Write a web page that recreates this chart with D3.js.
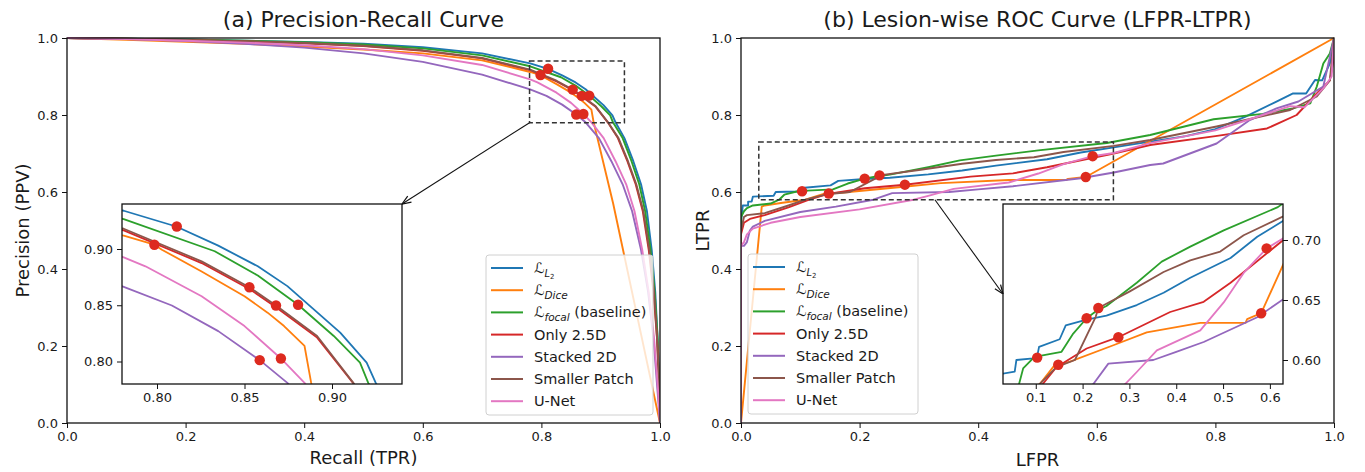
<!DOCTYPE html>
<html><head><meta charset="utf-8">
<script src="https://cdn.jsdelivr.net/npm/d3@7"></script>
<style>body{margin:0;background:#fff} svg text{font-family:"DejaVu Sans",sans-serif;fill:#1a1a1a}</style>
</head><body><svg id="c" width="1365" height="472"></svg>
<script>
// ---------- data ----------
const seriesNames = ["L2", "Dice", "focal (baseline)", "Only 2.5D", "Stacked 2D", "Smaller Patch", "U-Net"];
const seriesColors = ["#1f77b4", "#ff7f0e", "#2ca02c", "#d62728", "#9467bd", "#8c564b", "#e377c2"];
const mainTicks = [0.0, 0.2, 0.4, 0.6, 0.8, 1.0];
const prInsetTicks = [0.80, 0.85, 0.90];
const rocInsetXTicks = [0.1, 0.2, 0.3, 0.4, 0.5, 0.6];
const rocInsetYTicks = [0.60, 0.65, 0.70];
const prZoom = {x: [0.78, 0.94], y: [0.78, 0.94]};
const rocZoom = {x: [0.03, 0.628], y: [0.58, 0.73]};

// Precision-Recall curves  [recall, precision]
const prL2 = [[0,1.0],[0.1,0.998],[0.2,0.996],[0.3,0.993],[0.4,0.99],[0.5,0.985],[0.6,0.976],[0.7,0.96],[0.781,0.934],[0.811,0.92],[0.835,0.903],[0.8576,0.8846],[0.8745,0.867],[0.8896,0.8463],[0.9047,0.8257],[0.9198,0.799],[0.925,0.781],[0.94,0.74],[0.955,0.68],[0.968,0.62],[0.978,0.55],[0.986,0.45],[0.992,0.34],[0.996,0.22],[0.999,0.08],[1.0,0.0]];
const prDice = [[0,1.0],[0.1,0.995],[0.2,0.99],[0.3,0.985],[0.4,0.978],[0.5,0.97],[0.6,0.96],[0.7,0.942],[0.781,0.9118],[0.7985,0.9038],[0.8028,0.8994],[0.8255,0.88],[0.85,0.858],[0.8632,0.8434],[0.8726,0.8315],[0.8843,0.8138],[0.8881,0.781],[0.921,0.57],[1.0,0.0]];
const prFocal = [[0,1.0],[0.1,0.998],[0.2,0.996],[0.3,0.993],[0.4,0.989],[0.5,0.983],[0.6,0.973],[0.7,0.955],[0.781,0.9265],[0.833,0.898],[0.8576,0.8764],[0.8806,0.8504],[0.901,0.8227],[0.916,0.799],[0.9207,0.781],[0.937,0.74],[0.952,0.68],[0.965,0.62],[0.975,0.55],[0.984,0.45],[0.991,0.34],[0.996,0.22],[0.999,0.08],[1.0,0.0]];
const pr25D = [[0,1.0],[0.1,0.998],[0.2,0.995],[0.3,0.991],[0.4,0.986],[0.5,0.979],[0.6,0.967],[0.7,0.947],[0.781,0.9165],[0.8255,0.8875],[0.8528,0.8645],[0.868,0.8483],[0.8915,0.8212],[0.912,0.781],[0.929,0.74],[0.945,0.68],[0.959,0.62],[0.971,0.55],[0.981,0.45],[0.989,0.34],[0.995,0.22],[0.999,0.08],[1.0,0.0]];
const prStacked = [[0,1.0],[0.1,0.997],[0.2,0.992],[0.3,0.985],[0.4,0.975],[0.5,0.96],[0.6,0.938],[0.7,0.905],[0.781,0.8664],[0.8085,0.8498],[0.835,0.827],[0.8587,0.8012],[0.8745,0.781],[0.897,0.74],[0.918,0.68],[0.937,0.62],[0.953,0.55],[0.968,0.45],[0.98,0.34],[0.989,0.22],[0.996,0.08],[1.0,0.0]];
const prSmaller = [[0,1.0],[0.1,0.998],[0.2,0.995],[0.3,0.992],[0.4,0.987],[0.5,0.98],[0.6,0.968],[0.7,0.948],[0.781,0.918],[0.8255,0.889],[0.8528,0.866],[0.868,0.8498],[0.8915,0.8227],[0.9122,0.781],[0.93,0.74],[0.946,0.68],[0.96,0.62],[0.972,0.55],[0.982,0.45],[0.99,0.34],[0.995,0.22],[0.999,0.08],[1.0,0.0]];
const prUNet = [[0,1.0],[0.1,0.997],[0.2,0.993],[0.3,0.988],[0.4,0.981],[0.5,0.971],[0.6,0.955],[0.7,0.93],[0.781,0.8926],[0.7934,0.8846],[0.8255,0.858],[0.85,0.8315],[0.8708,0.8027],[0.8843,0.781],[0.905,0.74],[0.925,0.68],[0.943,0.62],[0.957,0.55],[0.97,0.45],[0.981,0.34],[0.99,0.22],[0.997,0.08],[1.0,0.0]];
const prPoints = [[0.8113,0.920],[0.7985,0.9038],[0.8528,0.866],[0.868,0.8498],[0.8806,0.8504],[0.8587,0.8012],[0.8708,0.8027]];

// Lesion-wise ROC curves [LFPR, LTPR]
const rocL2 = [[0,0],[0,0.52],[0.003,0.565],[0.012,0.565],[0.012,0.575],[0.018,0.575],[0.02,0.588],[0.055,0.5904],[0.0586,0.6],[0.0943,0.6014],[0.103,0.603],[0.107,0.611],[0.151,0.6173],[0.164,0.6288],[0.2086,0.6337],[0.251,0.637],[0.3157,0.6458],[0.373,0.656],[0.43,0.6685],[0.516,0.685],[0.573,0.7027],[0.6286,0.716],[0.69,0.731],[0.75,0.745],[0.8,0.763],[0.85,0.795],[0.903,0.835],[0.931,0.856],[0.953,0.856],[0.968,0.891],[0.98,0.89],[0.993,0.934],[1.0,1.0]];
const rocDice = [[0,0],[0.035,0.562],[0.04,0.565],[0.07,0.572],[0.1086,0.58],[0.1407,0.5959],[0.148,0.596],[0.173,0.5986],[0.2657,0.6123],[0.337,0.623],[0.4514,0.631],[0.548,0.631],[0.5514,0.634],[0.5814,0.639],[1.0,1.0]];
const rocFocal = [[0,0],[0,0.535],[0.005,0.55],[0.01,0.558],[0.02,0.565],[0.05,0.57],[0.0643,0.58],[0.073,0.593],[0.094,0.6014],[0.103,0.603],[0.155,0.6068],[0.18,0.622],[0.2086,0.6348],[0.23,0.641],[0.251,0.645],[0.3157,0.6644],[0.369,0.682],[0.43,0.6945],[0.5014,0.708],[0.617,0.7274],[0.69,0.748],[0.797,0.789],[0.88,0.803],[0.931,0.817],[0.96,0.83],[0.971,0.874],[0.982,0.934],[0.993,0.96],[1.0,1.0]];
const roc25D = [[0,0],[0,0.49],[0.005,0.52],[0.015,0.53],[0.04,0.54],[0.08,0.56],[0.115,0.58],[0.144,0.594],[0.2086,0.6096],[0.2764,0.619],[0.387,0.64],[0.4586,0.6485],[0.516,0.6644],[0.6286,0.70],[0.69,0.722],[0.8,0.745],[0.887,0.765],[0.937,0.8],[0.971,0.856],[0.993,0.89],[1.0,0.95],[1.0,1.0]];
const rocStacked = [[0,0],[0,0.46],[0.005,0.46],[0.01,0.47],[0.015,0.5],[0.02,0.51],[0.04,0.525],[0.1,0.548],[0.16,0.562],[0.223,0.58],[0.255,0.597],[0.351,0.6],[0.4,0.6068],[0.4586,0.615],[0.573,0.6356],[0.6286,0.6507],[0.69,0.67],[0.712,0.674],[0.802,0.726],[0.858,0.787],[0.903,0.817],[0.94,0.835],[0.982,0.874],[1.0,1.0]];
const rocSmaller = [[0,0],[0,0.5],[0.005,0.535],[0.01,0.54],[0.04,0.545],[0.08,0.565],[0.1086,0.58],[0.144,0.594],[0.1836,0.6],[0.228,0.636],[0.2336,0.6433],[0.30,0.657],[0.373,0.6733],[0.43,0.683],[0.494,0.6904],[0.544,0.704],[0.6286,0.7197],[0.69,0.735],[0.802,0.77],[0.926,0.813],[0.971,0.848],[0.993,0.89],[1.0,1.0]];
const rocUNet = [[0,0],[0,0.46],[0.005,0.47],[0.01,0.49],[0.02,0.505],[0.05,0.52],[0.1,0.535],[0.2,0.555],[0.291,0.58],[0.3157,0.59],[0.3586,0.608],[0.4514,0.6247],[0.5014,0.648],[0.544,0.6726],[0.593,0.693],[0.6286,0.7014],[0.69,0.727],[0.8,0.76],[0.858,0.789],[0.926,0.823],[0.95,0.82],[0.982,0.869],[0.996,0.9],[1.0,1.0]];
const rocPoints = [[0.103,0.602],[0.148,0.596],[0.2086,0.6348],[0.2336,0.6433],[0.2764,0.619],[0.5814,0.639],[0.593,0.693]];

const prSeries = [prL2, prDice, prFocal, pr25D, prStacked, prSmaller, prUNet];
const rocSeries = [rocL2, rocDice, rocFocal, roc25D, rocStacked, rocSmaller, rocUNet];

// ---------- drawing ----------
const svg = d3.select("#c");
const defs = svg.append("defs");
defs.append("marker").attr("id", "arrow").attr("viewBox", "-10 -5 10 10")
  .attr("refX", 0).attr("refY", 0).attr("markerWidth", 10).attr("markerHeight", 10)
  .attr("markerUnits", "userSpaceOnUse").attr("orient", "auto")
  .append("path").attr("d", "M-9,-3.5 L0,0 L-9,3.5").attr("fill", "none").attr("stroke", "#111").attr("stroke-width", 1.2);

let clipId = 0;
function clip(x0, y0, w, h) {
  const id = "clip" + (clipId++);
  defs.append("clipPath").attr("id", id).append("rect").attr("x", x0).attr("y", y0).attr("width", w).attr("height", h);
  return "url(#" + id + ")";
}

function styleAxis(g, fs) {
  g.select(".domain").remove();
  g.selectAll(".tick line").attr("stroke", "#111").attr("stroke-width", 1);
  g.selectAll(".tick text").attr("font-size", fs).attr("font-family", "DejaVu Sans").attr("fill", "#222");
  g.attr("font-family", null).attr("font-size", null);
}

function drawCurves(g, x, y, series, points, clipUrl, lw) {
  const line = d3.line().x(d => x(d[0])).y(d => y(d[1]));
  const cg = g.append("g").attr("clip-path", clipUrl);
  series.forEach((s, i) => {
    cg.append("path").attr("d", line(s)).attr("fill", "none")
      .attr("stroke", seriesColors[i]).attr("stroke-width", lw).attr("stroke-linejoin", "round");
  });
  cg.selectAll("circle.pt").data(points).enter().append("circle")
    .attr("cx", d => x(d[0])).attr("cy", d => y(d[1])).attr("r", 5.2).attr("fill", "#dd2a1f");
}

function legendLabel(t, i) {
  if (i === 0) {
    t.append("tspan").text("ℒ").attr("font-style", "italic");
    t.append("tspan").text("L").attr("font-size", 10).attr("font-style", "italic").attr("dy", 4);
    t.append("tspan").text("2").attr("font-size", 7).attr("dy", 2);
  } else if (i === 1) {
    t.append("tspan").text("ℒ").attr("font-style", "italic");
    t.append("tspan").text("Dice").attr("font-size", 10.5).attr("font-style", "italic").attr("dy", 4);
  } else if (i === 2) {
    t.append("tspan").text("ℒ").attr("font-style", "italic");
    t.append("tspan").text("focal").attr("font-size", 10.5).attr("font-style", "italic").attr("dy", 4);
    t.append("tspan").text(" (baseline)").attr("dy", -4);
  } else {
    t.text(seriesNames[i]);
  }
}

function drawPanel(cfg) {
  const g = svg.append("g");
  const x = d3.scaleLinear().domain([0, 1]).range([cfg.x0, cfg.x1]);
  const y = d3.scaleLinear().domain([0, 1]).range([cfg.y1, cfg.y0]);
  const cw = cfg.x1 - cfg.x0, ch = cfg.y1 - cfg.y0;

  drawCurves(g, x, y, cfg.series, cfg.points, clip(cfg.x0, cfg.y0 - 1, cw, ch + 2), 1.9);

  // axes
  const ax = g.append("g").attr("transform", `translate(0,${cfg.y1})`)
    .call(d3.axisBottom(x).tickValues(mainTicks).tickFormat(d3.format(".1f")).tickSize(5).tickPadding(4));
  styleAxis(ax, 13);
  const ay = g.append("g").attr("transform", `translate(${cfg.x0},0)`)
    .call(d3.axisLeft(y).tickValues(mainTicks).tickFormat(d3.format(".1f")).tickSize(5).tickPadding(4));
  styleAxis(ay, 13);
  g.append("rect").attr("x", cfg.x0).attr("y", cfg.y0).attr("width", cw).attr("height", ch)
    .attr("fill", "none").attr("stroke", "#111").attr("stroke-width", 1.3);

  // titles / labels
  g.append("text").attr("x", (cfg.x0 + cfg.x1) / 2).attr("y", 27).attr("text-anchor", "middle")
    .attr("font-size", 22).text(cfg.title);
  g.append("text").attr("x", (cfg.x0 + cfg.x1) / 2).attr("y", cfg.xlabelY).attr("text-anchor", "middle")
    .attr("font-size", 18).text(cfg.xlabel);
  g.append("text").attr("transform", `translate(${cfg.ylabelX},${(cfg.y0 + cfg.y1) / 2}) rotate(-90)`)
    .attr("text-anchor", "middle").attr("font-size", 18).text(cfg.ylabel);

  // zoom rectangle on main axes
  const z = cfg.zoom;
  g.append("rect").attr("x", x(z.x[0])).attr("y", y(z.y[1]))
    .attr("width", x(z.x[1]) - x(z.x[0])).attr("height", y(z.y[0]) - y(z.y[1]))
    .attr("fill", "none").attr("stroke", "#333").attr("stroke-width", 1.5).attr("stroke-dasharray", "5,3");

  // inset
  const ins = cfg.inset;
  const ix = d3.scaleLinear().domain(z.x).range([ins.x0, ins.x1]);
  const iy = d3.scaleLinear().domain(z.y).range([ins.y1, ins.y0]);
  const ig = g.append("g");
  ig.append("rect").attr("x", ins.x0).attr("y", ins.y0).attr("width", ins.x1 - ins.x0).attr("height", ins.y1 - ins.y0).attr("fill", "#fff");
  drawCurves(ig, ix, iy, cfg.series, cfg.points, clip(ins.x0, ins.y0, ins.x1 - ins.x0, ins.y1 - ins.y0), 1.8);
  const iax = ig.append("g").attr("transform", `translate(0,${ins.y1})`)
    .call(d3.axisBottom(ix).tickValues(ins.xticks).tickFormat(d3.format(ins.xfmt)).tickSize(5).tickPadding(4));
  styleAxis(iax, 13);
  const iayAxis = ins.yside === "left" ? d3.axisLeft(iy) : d3.axisRight(iy);
  const iay = ig.append("g").attr("transform", `translate(${ins.yside === "left" ? ins.x0 : ins.x1},0)`)
    .call(iayAxis.tickValues(ins.yticks).tickFormat(d3.format(".2f")).tickSize(5).tickPadding(4));
  styleAxis(iay, 13);
  ig.append("rect").attr("x", ins.x0).attr("y", ins.y0).attr("width", ins.x1 - ins.x0).attr("height", ins.y1 - ins.y0)
    .attr("fill", "none").attr("stroke", "#111").attr("stroke-width", 1.3);

  // connector arrow
  const a = cfg.arrow;
  g.append("line").attr("x1", x(a.from[0])).attr("y1", y(a.from[1]))
    .attr("x2", ix(a.to[0])).attr("y2", iy(a.to[1]))
    .attr("stroke", "#111").attr("stroke-width", 1.1).attr("marker-end", "url(#arrow)");

  // legend
  const L = cfg.legend;
  const lg = g.append("g");
  lg.append("rect").attr("x", L.x).attr("y", L.y).attr("width", L.w).attr("height", L.h)
    .attr("rx", 3).attr("fill", "#fff").attr("fill-opacity", 0.8).attr("stroke", "#d0d0d0");
  seriesNames.forEach((n, i) => {
    const cy = L.y + 13 + i * 22.2;
    lg.append("line").attr("x1", L.x + 5).attr("x2", L.x + 37).attr("y1", cy).attr("y2", cy)
      .attr("stroke", seriesColors[i]).attr("stroke-width", 2);
    const t = lg.append("text").attr("x", L.x + 48).attr("y", cy + 5).attr("font-size", 14.5);
    legendLabel(t, i);
  });
}

drawPanel({
  x0: 67, x1: 660, y0: 38, y1: 423,
  series: prSeries, points: prPoints,
  title: "(a) Precision-Recall Curve", xlabel: "Recall (TPR)", ylabel: "Precision (PPV)",
  xlabelY: 464, ylabelX: 29,
  zoom: prZoom,
  inset: {x0: 122, x1: 402, y0: 204, y1: 384, xticks: prInsetTicks, xfmt: ".2f", yticks: prInsetTicks, yside: "left"},
  arrow: {from: [prZoom.x[0], prZoom.y[0]], to: [prZoom.x[1], prZoom.y[1]]},
  legend: {x: 486, y: 255, w: 167, h: 160}
});

drawPanel({
  x0: 741, x1: 1334, y0: 38, y1: 423,
  series: rocSeries, points: rocPoints,
  title: "(b) Lesion-wise ROC Curve (LFPR-LTPR)", xlabel: "LFPR", ylabel: "LTPR",
  xlabelY: 466, ylabelX: 709,
  zoom: rocZoom,
  inset: {x0: 1003, x1: 1283, y0: 204, y1: 384, xticks: rocInsetXTicks, xfmt: ".1f", yticks: rocInsetYTicks, yside: "right"},
  arrow: {from: [0.327, rocZoom.y[0]], to: [rocZoom.x[0], 0.655]},
  legend: {x: 748, y: 254, w: 170, h: 160}
});
</script>
</body></html>
